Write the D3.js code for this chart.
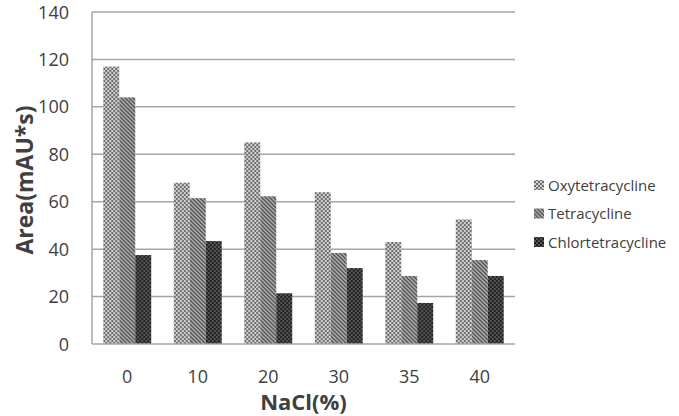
<!DOCTYPE html>
<html>
<head>
<meta charset="utf-8">
<script src="https://cdn.jsdelivr.net/npm/d3@7"></script>
<style>
  body { margin: 0; background: #fff; }
  svg { display: block; font-family: "Open Sans", "Liberation Sans", sans-serif; }
</style>
</head>
<body>
<div id="chart"></div>
<script>
var categories = ["0", "10", "20", "30", "35", "40"];
var seriesNames = ["Oxytetracycline", "Tetracycline", "Chlortetracycline"];
var oxy = [117, 68, 85, 64, 43, 52.5];
var tetra = [104, 61.5, 62.3, 38.4, 28.7, 35.4];
var chlor = [37.5, 43.4, 21.4, 32, 17.3, 28.7];
var yTicks = [0, 20, 40, 60, 80, 100, 120, 140];

var W = 679, H = 416;
var plotLeft = 92, plotRight = 515, plotTop = 12, plotBottom = 344;
var textColor = "#404040";
var gridColor = "#a6a6a6";

var svg = d3.select("#chart").append("svg")
	.attr("width", W)
	.attr("height", H);

var defs = svg.append("defs");

// light checker for Oxytetracycline
var p1 = defs.append("pattern").attr("id", "pat0")
	.attr("width", 4).attr("height", 4).attr("patternUnits", "userSpaceOnUse");
p1.append("rect").attr("width", 4).attr("height", 4).attr("fill", "#d0d0d0");
p1.append("rect").attr("x", 0).attr("y", 0).attr("width", 2).attr("height", 2).attr("fill", "#6e6e6e");
p1.append("rect").attr("x", 2).attr("y", 2).attr("width", 2).attr("height", 2).attr("fill", "#6e6e6e");

// diagonal lines for Tetracycline
var p2 = defs.append("pattern").attr("id", "pat1")
	.attr("width", 4).attr("height", 4).attr("patternUnits", "userSpaceOnUse");
p2.append("rect").attr("width", 4).attr("height", 4).attr("fill", "#bdbdbd");
p2.append("path").attr("d", "M-1,-1 L5,5 M-1,3 L1,5 M3,-1 L5,1")
	.attr("stroke", "#4a4a4a").attr("stroke-width", 1.5);

// dark checker for Chlortetracycline
var p3 = defs.append("pattern").attr("id", "pat2")
	.attr("width", 4).attr("height", 4).attr("patternUnits", "userSpaceOnUse");
p3.append("rect").attr("width", 4).attr("height", 4).attr("fill", "#555");
p3.append("rect").attr("x", 0).attr("y", 0).attr("width", 2).attr("height", 2).attr("fill", "#222");
p3.append("rect").attr("x", 2).attr("y", 2).attr("width", 2).attr("height", 2).attr("fill", "#222");

var x = d3.scaleBand().domain(categories).range([plotLeft, plotRight]).paddingInner(0.32).paddingOuter(0.16);
var x1 = d3.scaleBand().domain(seriesNames).range([0, x.bandwidth()]);
var y = d3.scaleLinear().domain([0, 140]).range([plotBottom, plotTop]);

// gridlines
svg.append("g").selectAll("line")
	.data(yTicks.slice(1))
	.enter()
	.append("line")
	.attr("x1", plotLeft).attr("x2", plotRight)
	.attr("y1", d => y(d)).attr("y2", d => y(d))
	.attr("stroke", gridColor).attr("stroke-width", 1.5);

var rows = categories.map((c, i) => ({cat: c, vals: [oxy[i], tetra[i], chlor[i]]}));

var groups = svg.append("g").selectAll("g")
	.data(rows)
	.enter()
	.append("g")
	.attr("transform", d => "translate(" + x(d.cat) + ",0)");

groups.selectAll("rect")
	.data(d => d.vals.map((v, j) => ({name: seriesNames[j], v: v, j: j})))
	.enter()
	.append("rect")
	.attr("x", d => x1(d.name))
	.attr("width", x1.bandwidth())
	.attr("y", d => y(d.v))
	.attr("height", d => y(0) - y(d.v))
	.attr("fill", d => "url(#pat" + d.j + ")");

// axis lines
svg.append("line")
	.attr("x1", plotLeft).attr("x2", plotLeft).attr("y1", plotTop).attr("y2", plotBottom)
	.attr("stroke", gridColor).attr("stroke-width", 1.5);
svg.append("line")
	.attr("x1", plotLeft).attr("x2", plotRight).attr("y1", plotBottom).attr("y2", plotBottom)
	.attr("stroke", gridColor).attr("stroke-width", 1.5);

// y tick labels
svg.append("g").selectAll("text")
	.data(yTicks)
	.enter()
	.append("text")
	.attr("x", 69)
	.attr("y", d => y(d) + 6.5)
	.attr("text-anchor", "end")
	.style("font-size", "18px")
	.attr("fill", textColor)
	.text(d => d);

// x tick labels
svg.append("g").selectAll("text")
	.data(categories)
	.enter()
	.append("text")
	.attr("x", d => x(d) + x.bandwidth() / 2)
	.attr("y", 383)
	.attr("text-anchor", "middle")
	.style("font-size", "18px")
	.attr("fill", textColor)
	.text(d => d);

// axis titles
svg.append("text")
	.attr("x", (plotLeft + plotRight) / 2)
	.attr("y", 410)
	.attr("text-anchor", "middle")
	.style("font-size", "22px")
	.style("font-weight", "bold")
	.attr("fill", textColor)
	.text("NaCl(%)");

svg.append("text")
	.attr("transform", "translate(33,180) rotate(-90)")
	.attr("text-anchor", "middle")
	.style("font-size", "23px")
	.style("font-weight", "bold")
	.attr("fill", textColor)
	.text("Area(mAU*s)");

// legend
var legend = svg.append("g").selectAll("g")
	.data(seriesNames)
	.enter()
	.append("g")
	.attr("transform", (d, i) => "translate(534," + (185 + i * 28.5) + ")");

legend.append("rect")
	.attr("x", 0).attr("y", -5)
	.attr("width", 10).attr("height", 10)
	.attr("fill", (d, i) => "url(#pat" + i + ")");

legend.append("text")
	.attr("x", 14)
	.attr("y", 5.5)
	.style("font-size", "15px")
	.attr("fill", textColor)
	.text(d => d);
</script>
</body>
</html>
